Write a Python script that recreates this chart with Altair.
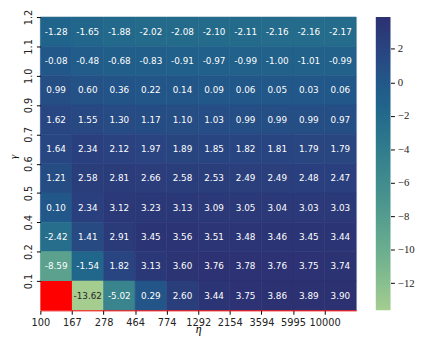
import altair as alt
import pandas as pd

eta_labels = ["100", "167", "278", "464", "774", "1292", "2154", "3594", "5995", "10000"]
# gamma labels from the top row down (each label sits on its row's top edge)
gamma_labels = ["1.2", "1.1", "1.0", "0.9", "0.7", "0.6", "0.5", "0.4", "0.2", "0.1"]

# rows listed from top to bottom; None = missing cell
row_a = [-1.28, -1.65, -1.88, -2.02, -2.08, -2.10, -2.11, -2.16, -2.16, -2.17]
row_b = [-0.08, -0.48, -0.68, -0.83, -0.91, -0.97, -0.99, -1.00, -1.01, -0.99]
row_c = [0.99, 0.60, 0.36, 0.22, 0.14, 0.09, 0.06, 0.05, 0.03, 0.06]
row_d = [1.62, 1.55, 1.30, 1.17, 1.10, 1.03, 0.99, 0.99, 0.99, 0.97]
row_e = [1.64, 2.34, 2.12, 1.97, 1.89, 1.85, 1.82, 1.81, 1.79, 1.79]
row_f = [1.21, 2.58, 2.81, 2.66, 2.58, 2.53, 2.49, 2.49, 2.48, 2.47]
row_g = [0.10, 2.34, 3.12, 3.23, 3.13, 3.09, 3.05, 3.04, 3.03, 3.03]
row_h = [-2.42, 1.41, 2.91, 3.45, 3.56, 3.51, 3.48, 3.46, 3.45, 3.44]
row_i = [-8.59, -1.54, 1.82, 3.13, 3.60, 3.76, 3.78, 3.76, 3.75, 3.74]
row_j = [None, -13.62, -5.02, 0.29, 2.60, 3.44, 3.75, 3.86, 3.89, 3.90]
rows = [row_a, row_b, row_c, row_d, row_e, row_f, row_g, row_h, row_i, row_j]

vmin, vmax = -13.62, 3.90
crest = ["#a5cd90", "#86be8f", "#6cae8f", "#589f8e", "#46918e", "#38838d",
         "#2a748c", "#20648b", "#235488", "#2a427f", "#2c3172"]
cb_ticks = [-12, -10, -8, -6, -4, -2, 0, 2]

W, H = 322, 299
recs = []
for g, vals in zip(gamma_labels, rows):
    for e, v in zip(eta_labels, vals):
        recs.append({"eta": e, "gam": g, "v": v, "t": "" if v is None else f"{v:.2f}"})
df = pd.DataFrame(recs)

dom = [vmin + (vmax - vmin) * i / (len(crest) - 1) for i in range(len(crest))]
cscale = alt.Scale(domain=dom, range=crest, interpolate="rgb")
xsc = alt.Scale(domain=eta_labels, paddingInner=0, paddingOuter=0)
ysc = alt.Scale(domain=gamma_labels, paddingInner=0, paddingOuter=0)
half_x = W / len(eta_labels) / 2
half_y = H / len(gamma_labels) / 2

X = alt.X("eta:O", scale=xsc,
          axis=alt.Axis(title="η", labelAngle=0, tickOffset=-half_x,
                        grid=False, domain=True, domainColor="red", domainWidth=1,
                        tickSize=4, tickColor="black", labelPadding=3,
                        labelOverlap=False,
                        labelFont="DejaVu Sans", labelFontSize=10, labelColor="#222",
                        titleFont="Liberation Serif", titleFontStyle="italic",
                        titleFontWeight="normal", titleFontSize=12,
                        titleY=19, titleBaseline="middle"))
Y = alt.Y("gam:O", scale=ysc,
          axis=alt.Axis(title="γ", tickOffset=-half_y,
                        grid=False, domain=False, tickSize=4, tickColor="black",
                        labelAngle=270, labelAlign="center", labelBaseline="bottom",
                        labelOverlap=False,
                        labelPadding=3, labelFont="DejaVu Sans", labelFontSize=10,
                        labelColor="#222", titleFont="Liberation Serif",
                        titleFontStyle="italic", titleFontWeight="normal",
                        titleFontSize=11, titleX=-27, titleY=142,
                        titleAngle=270, titleBaseline="middle"))

base = alt.Chart(df)
cells = base.transform_filter("isValid(datum.v)").mark_rect(strokeWidth=0.6).encode(
    x=X, y=Y,
    fill=alt.Fill("v:Q", scale=cscale, legend=None),
    stroke=alt.Stroke("v:Q", scale=cscale, legend=None),
)
missing = base.transform_filter("!isValid(datum.v)").mark_rect(color="red").encode(
    x=alt.X("eta:O", scale=xsc), y=alt.Y("gam:O", scale=ysc))
labels = base.transform_filter("isValid(datum.v)").mark_text(
    font="DejaVu Sans", fontSize=9).encode(
    x=alt.X("eta:O", scale=xsc), y=alt.Y("gam:O", scale=ysc),
    text="t:N",
    color=alt.condition("datum.v < -10", alt.value("#262626"), alt.value("white")))

heat = alt.layer(cells, missing, labels)

cb_df = pd.DataFrame({"lo": [vmin], "hi": [vmax]})
grad = alt.Gradient(gradient="linear", x1=0, y1=1, x2=0, y2=0,
                    stops=[alt.GradientStop(color=col, offset=i / (len(crest) - 1))
                           for i, col in enumerate(crest)])
cbar = alt.Chart(cb_df).mark_rect(color=grad).encode(
    x=alt.value(342), x2=alt.value(357),
    y=alt.Y("lo:Q", scale=alt.Scale(domain=[vmin, vmax], nice=False, zero=False),
            axis=alt.Axis(orient="right", offset=35, values=cb_ticks, title=None,
                          grid=False, domain=False, tickSize=4, tickColor="black",
                          labelPadding=3, labelFlush=False, labelOverlap=False,
                          labelFont="Liberation Serif", labelFontSize=11,
                          labelColor="#222", labelBaseline="middle")),
    y2="hi:Q",
)

chart = alt.layer(heat, cbar).resolve_scale(y="independent").properties(
    width=W, height=H,
    autosize=alt.AutoSizeParams(type="none"),
    padding={"left": 33, "top": 6, "right": 61, "bottom": 25},
).configure_view(stroke=None).configure(background="white")

chart.save("out.html", embed_options={"renderer": "svg", "actions": False})
